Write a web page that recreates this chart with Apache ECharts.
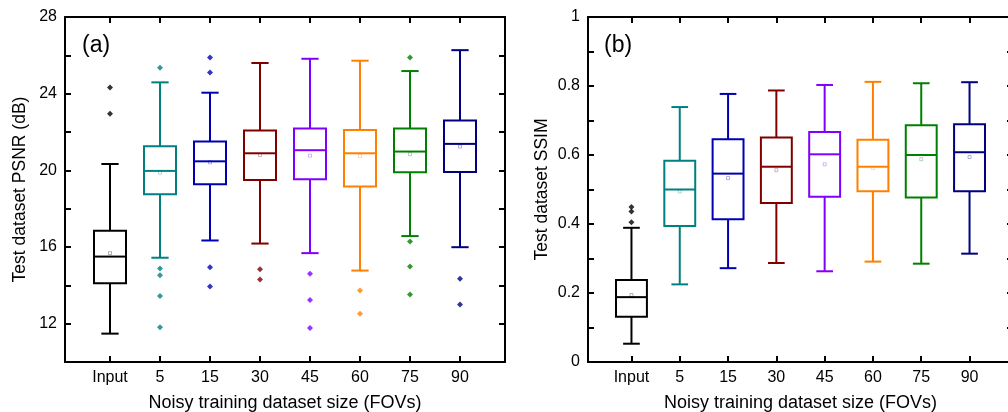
<!DOCTYPE html>
<html>
<head>
<meta charset="utf-8">
<script src="https://cdn.jsdelivr.net/npm/echarts@6/dist/echarts.min.js"></script>
<style>html,body{margin:0;padding:0;background:#fff}#c{width:1008px;height:412px}</style>
</head>
<body>
<div id="c"></div>
<script>
const categories = ['Input','5','15','30','45','60','75','90'];
const colors = ['#000000','#008080','#0000b0','#800000','#8000ff','#ff8000','#008000','#000080'];

const psnrMin  = [11.48,15.44,16.34,16.18,15.68,14.77,16.57,15.99];
const psnrQ1   = [14.11,18.75,19.27,19.50,19.53,19.16,19.90,19.91];
const psnrMed  = [15.50,19.97,20.47,20.89,21.05,20.89,20.98,21.38];
const psnrQ3   = [16.85,21.26,21.50,22.08,22.18,22.10,22.18,22.60];
const psnrMax  = [20.33,24.59,24.05,25.60,25.82,25.72,25.18,26.27];
const psnrMean = [15.68,19.88,20.42,20.80,20.77,20.75,20.84,21.24];
const psnrOutliers = [
  [24.32,22.95],
  [25.35,14.88,14.53,13.45,11.81],
  [25.89,25.11,14.95,13.94],
  [14.84,14.30],
  [14.61,13.24,11.77],
  [13.73,12.52],
  [25.89,16.29,14.98,13.52],
  [14.34,13.00]
];

const ssimMin  = [0.053,0.225,0.272,0.287,0.263,0.291,0.285,0.314];
const ssimQ1   = [0.131,0.394,0.414,0.461,0.479,0.495,0.477,0.495];
const ssimMed  = [0.188,0.500,0.546,0.566,0.602,0.566,0.600,0.608];
const ssimQ3   = [0.238,0.583,0.646,0.651,0.667,0.644,0.686,0.689];
const ssimMax  = [0.389,0.739,0.777,0.787,0.803,0.812,0.808,0.811];
const ssimMean = [0.194,0.494,0.533,0.556,0.573,0.562,0.588,0.594];
const ssimOutliers = [[0.449,0.436,0.405],[],[],[],[],[],[],[]];

const psnrTickLabels = ['12','16','20','24','28'];
const ssimTickLabels = ['0','0.2','0.4','0.6','0.8','1'];

const FONT = 'Liberation Sans, Arial, Helvetica, sans-serif';
const idx = categories.map((c,i)=>i);

function boxData(mn,q1,md,q3,mx,mean){
  return idx.map(i=>[i,mn[i],q1[i],md[i],q3[i],mx[i],mean[i]]);
}
function outlierData(out){
  const d=[];
  out.forEach((arr,i)=>arr.forEach(v=>d.push([i,v])));
  return d;
}
function renderBox(params, api){
  const i = api.value(0);
  const col = colors[i];
  const pMin = api.coord([i, api.value(1)]);
  const pQ1 = api.coord([i, api.value(2)]);
  const pMed = api.coord([i, api.value(3)]);
  const pQ3 = api.coord([i, api.value(4)]);
  const pMax = api.coord([i, api.value(5)]);
  const pMean = api.coord([i, api.value(6)]);
  const unit = api.size([1,0])[0];
  const hw = unit*0.32;
  const cw = hw*0.54;
  const x = pMed[0];
  const st = {stroke: col, lineWidth: 2, fill: null};
  const ln = (x1,y1,x2,y2)=>({type:'line',shape:{x1,y1,x2,y2},style:st});
  return {type:'group',children:[
    ln(x,pMax[1],x,pQ3[1]),
    ln(x,pQ1[1],x,pMin[1]),
    ln(x-cw,pMax[1],x+cw,pMax[1]),
    ln(x-cw,pMin[1],x+cw,pMin[1]),
    {type:'rect',shape:{x:x-hw,y:pQ3[1],width:2*hw,height:pQ1[1]-pQ3[1]},style:{stroke:col,lineWidth:2,fill:null}},
    ln(x-hw,pMed[1],x+hw,pMed[1]),
    {type:'rect',shape:{x:x-1.5,y:pMean[1]-1.5,width:3,height:3},style:{stroke:col,lineWidth:1,fill:null,opacity:0.3}}
  ]};
}

function xAxes(gi){
  const common = {
    type:'value', gridIndex: gi, min:-0.9, max:7.9,
    splitLine:{show:false},
    axisLine:{show:true,onZero:false,lineStyle:{color:'#000',width:2}},
    axisTick:{show:true,inside:true,length:6,customValues:idx,lineStyle:{color:'#000',width:2}}
  };
  return [
    Object.assign({}, common, {
      position:'bottom',
      axisLabel:{show:true,customValues:idx,formatter:v=>categories[Math.round(v)],color:'#000',fontSize:16,fontFamily:FONT,margin:8},
      name:'Noisy training dataset size (FOVs)', nameLocation:'middle', nameGap:32,
      nameTextStyle:{color:'#000',fontSize:18,fontFamily:FONT}
    }),
    Object.assign({}, common, {position:'top', axisLabel:{show:false}})
  ];
}
function yAxes(gi,min,max,interval,labelFn,name,gap){
  const common = {
    type:'value', gridIndex:gi, min, max, interval,
    splitLine:{show:false},
    axisLine:{show:true,onZero:false,lineStyle:{color:'#000',width:2}},
    axisTick:{show:true,inside:true,length:6,lineStyle:{color:'#000',width:2}}
  };
  return [
    Object.assign({}, common, {
      position:'left',
      axisLabel:{show:true,formatter:labelFn,color:'#000',fontSize:16,fontFamily:FONT,margin:8},
      name, nameLocation:'middle', nameGap:gap,
      nameTextStyle:{color:'#000',fontSize:17.5,fontFamily:FONT}
    }),
    Object.assign({}, common, {position:'right', axisLabel:{show:false}})
  ];
}

const psnrLabel = v => { const k = Math.round(v); return ((k-12)%4===0 && k>=12) ? psnrTickLabels[(k-12)/4] : ''; };
const ssimLabel = v => { const k = Math.round(v*10); return (k%2===0) ? ssimTickLabels[k/2] : ''; };

const chart = echarts.init(document.getElementById('c'), null, {renderer:'canvas'});
chart.setOption({
  animation:false,
  backgroundColor:'#fff',
  title:[
    {text:'(a)',left:77,top:29,textStyle:{fontSize:23,fontWeight:'normal',color:'#000',fontFamily:FONT}},
    {text:'(b)',left:599,top:29,textStyle:{fontSize:23,fontWeight:'normal',color:'#000',fontFamily:FONT}}
  ],
  grid:[
    {left:65,top:17,width:440,height:345,outerBoundsMode:'none',containLabel:false},
    {left:588,top:17,width:425,height:345,outerBoundsMode:'none',containLabel:false}
  ],
  xAxis:[...xAxes(0), ...xAxes(1)],
  yAxis:[
    ...yAxes(0,10,28,2,psnrLabel,'Test dataset PSNR (dB)',36),
    ...yAxes(1,0,1,0.1,ssimLabel,'Test dataset SSIM',37)
  ],
  series:[
    {type:'custom',xAxisIndex:0,yAxisIndex:0,renderItem:renderBox,encode:{x:0,y:[1,2,3,4,5]},
     data:boxData(psnrMin,psnrQ1,psnrMed,psnrQ3,psnrMax,psnrMean)},
    {type:'scatter',xAxisIndex:0,yAxisIndex:0,symbol:'diamond',symbolSize:6,
     itemStyle:{color:p=>colors[p.value[0]]},data:outlierData(psnrOutliers)},
    {type:'custom',xAxisIndex:2,yAxisIndex:2,renderItem:renderBox,encode:{x:0,y:[1,2,3,4,5]},
     data:boxData(ssimMin,ssimQ1,ssimMed,ssimQ3,ssimMax,ssimMean)},
    {type:'scatter',xAxisIndex:2,yAxisIndex:2,symbol:'diamond',symbolSize:6,
     itemStyle:{color:p=>colors[p.value[0]]},data:outlierData(ssimOutliers)}
  ]
});
</script>
</body>
</html>
